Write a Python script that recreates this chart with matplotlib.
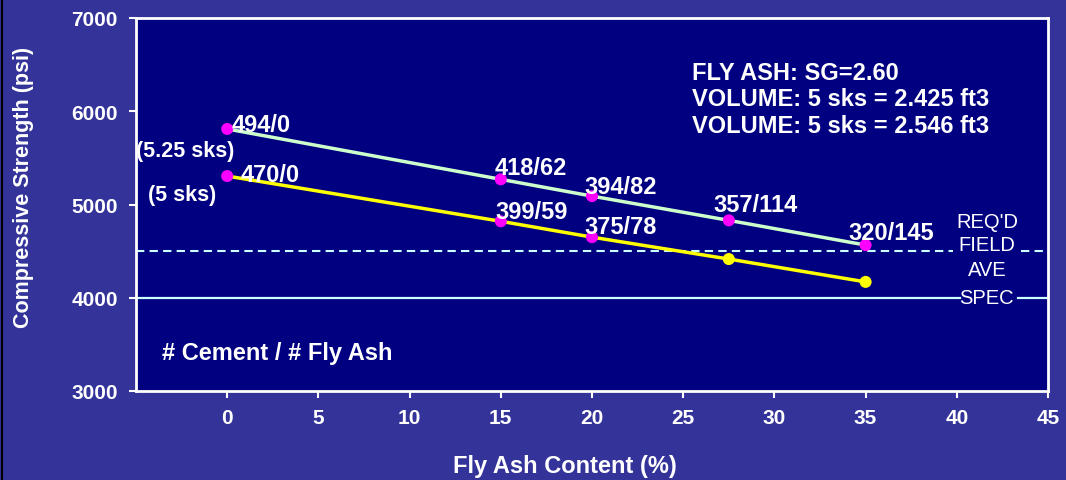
import matplotlib
matplotlib.use("Agg")
import matplotlib.pyplot as plt
from matplotlib.lines import Line2D

plt.rcParams['font.family'] = ['Liberation Sans', 'DejaVu Sans']

fly_ash_pct = [0, 15, 20, 27.5, 35]
strength_525 = [5810, 5270, 5090, 4830, 4565]
strength_5 = [5305, 4820, 4650, 4415, 4170]
labels_525 = ["494/0", "418/62", "394/82", "357/114", "320/145"]
labels_5 = ["470/0", "399/59", "375/78"]
marker_colors_525 = ["#ff00ff"] * 5
marker_colors_5 = ["#ff00ff", "#ff00ff", "#ff00ff", "#ffff00", "#ffff00"]
req_field_ave = 4500
spec = 4000
xticks = [0, 5, 10, 15, 20, 25, 30, 35, 40, 45]
yticks = [3000, 4000, 5000, 6000, 7000]

outer = "#333399"
inner = "#000080"

fig = plt.figure(figsize=(10.66, 4.81), dpi=100, facecolor=outer)
ax = fig.add_axes([136/1066, 89/481, 912/1066, 373/481])
ax.set_facecolor(inner)
ax.set_xlim(-5, 45)
ax.set_ylim(3000, 7000)

# reference lines (broken where the side labels sit)
ax.plot([-5, 40.2], [spec, spec], color="#ccffff", lw=1.6, zorder=2)
ax.plot([43.35, 45], [spec, spec], color="#ccffff", lw=1.6, zorder=2)
ax.plot([-5, 39.8], [req_field_ave, req_field_ave], color="#ccffff", lw=1.5, ls=(0, (4, 2.5)), zorder=2)
ax.plot([43.5, 45], [req_field_ave, req_field_ave], color="#ccffff", lw=1.5, ls=(0, (4, 2.5)), zorder=2)

ax.plot(fly_ash_pct, strength_525, color="#ccffcc", lw=2.5, zorder=3)
ax.plot(fly_ash_pct, strength_5, color="#ffff00", lw=2.5, zorder=3)
ax.scatter(fly_ash_pct, strength_525, c=marker_colors_525, s=75, zorder=4, linewidths=0)
ax.scatter(fly_ash_pct, strength_5, c=marker_colors_5, s=75, zorder=4, linewidths=0)

lab_kw = dict(color="white", fontsize=17, fontweight="bold", zorder=5)
offs_525 = [(0.26, 43), (-0.32, 132), (-0.4, 108), (-0.87, 175), (-0.96, 140)]
for x, y, t, (dx, dy) in zip(fly_ash_pct, strength_525, labels_525, offs_525):
    ax.text(x + dx, y + dy, t, ha="left", va="center", **lab_kw)
offs_5 = [(0.76, 22), (-0.32, 105), (-0.4, 109)]
for x, y, t, (dx, dy) in zip(fly_ash_pct, strength_5, labels_5, offs_5):
    ax.text(x + dx, y + dy, t, ha="left", va="center", **lab_kw)

paren_kw = dict(color="white", fontsize=15.5, fontweight="bold", zorder=5, ha="center", va="center")
ax.text(-2.31, 5584, "(5.25 sks)", **paren_kw)
ax.text(-2.45, 5102, "(5 sks)", **paren_kw)

side_kw = dict(ha="center", va="center", color="white", fontsize=14.5, zorder=5)
ax.text(41.65, 4823, "REQ'D", **side_kw)
ax.text(41.65, 4566, "FIELD", **side_kw)
ax.text(41.65, 4308, "AVE", **side_kw)
ax.text(41.65, 4008, "SPEC", **side_kw)

ax.text(25.48, 6135, "FLY ASH: SG=2.60\nVOLUME: 5 sks = 2.425 ft3\nVOLUME: 5 sks = 2.546 ft3",
        ha="left", va="center", color="white", fontsize=17, fontweight="bold",
        linespacing=1.2, zorder=5)
ax.text(-3.57, 3418, "# Cement / # Fly Ash", ha="left", va="center", color="white",
        fontsize=17, fontweight="bold", zorder=5)

ax.set_xticks(xticks)
ax.set_yticks(yticks)
ax.tick_params(colors="white", labelsize=15, width=1.5, length=5, direction="out")
for lab in ax.get_xticklabels() + ax.get_yticklabels():
    lab.set_fontweight("bold")
    lab.set_color("white")
ax.tick_params(axis="x", pad=7)
ax.tick_params(axis="y", pad=8)
for sp in ax.spines.values():
    sp.set_color("white")
    sp.set_linewidth(2)

fig.text(565/1066, 1 - 466/481, "Fly Ash Content (%)", color="white", fontsize=17,
         fontweight="bold", ha="center", va="center")
fig.text(24/1066, 1 - 187/481, "Compressive Strength (psi)", color="white", fontsize=15.5,
         fontweight="bold", ha="center", va="center", rotation=90)

fig.add_artist(Line2D([1.5/1066, 1.5/1066], [0, 1], color="black", lw=1.5, transform=fig.transFigure))

fig.savefig("out.png", dpi=100, facecolor=outer)
